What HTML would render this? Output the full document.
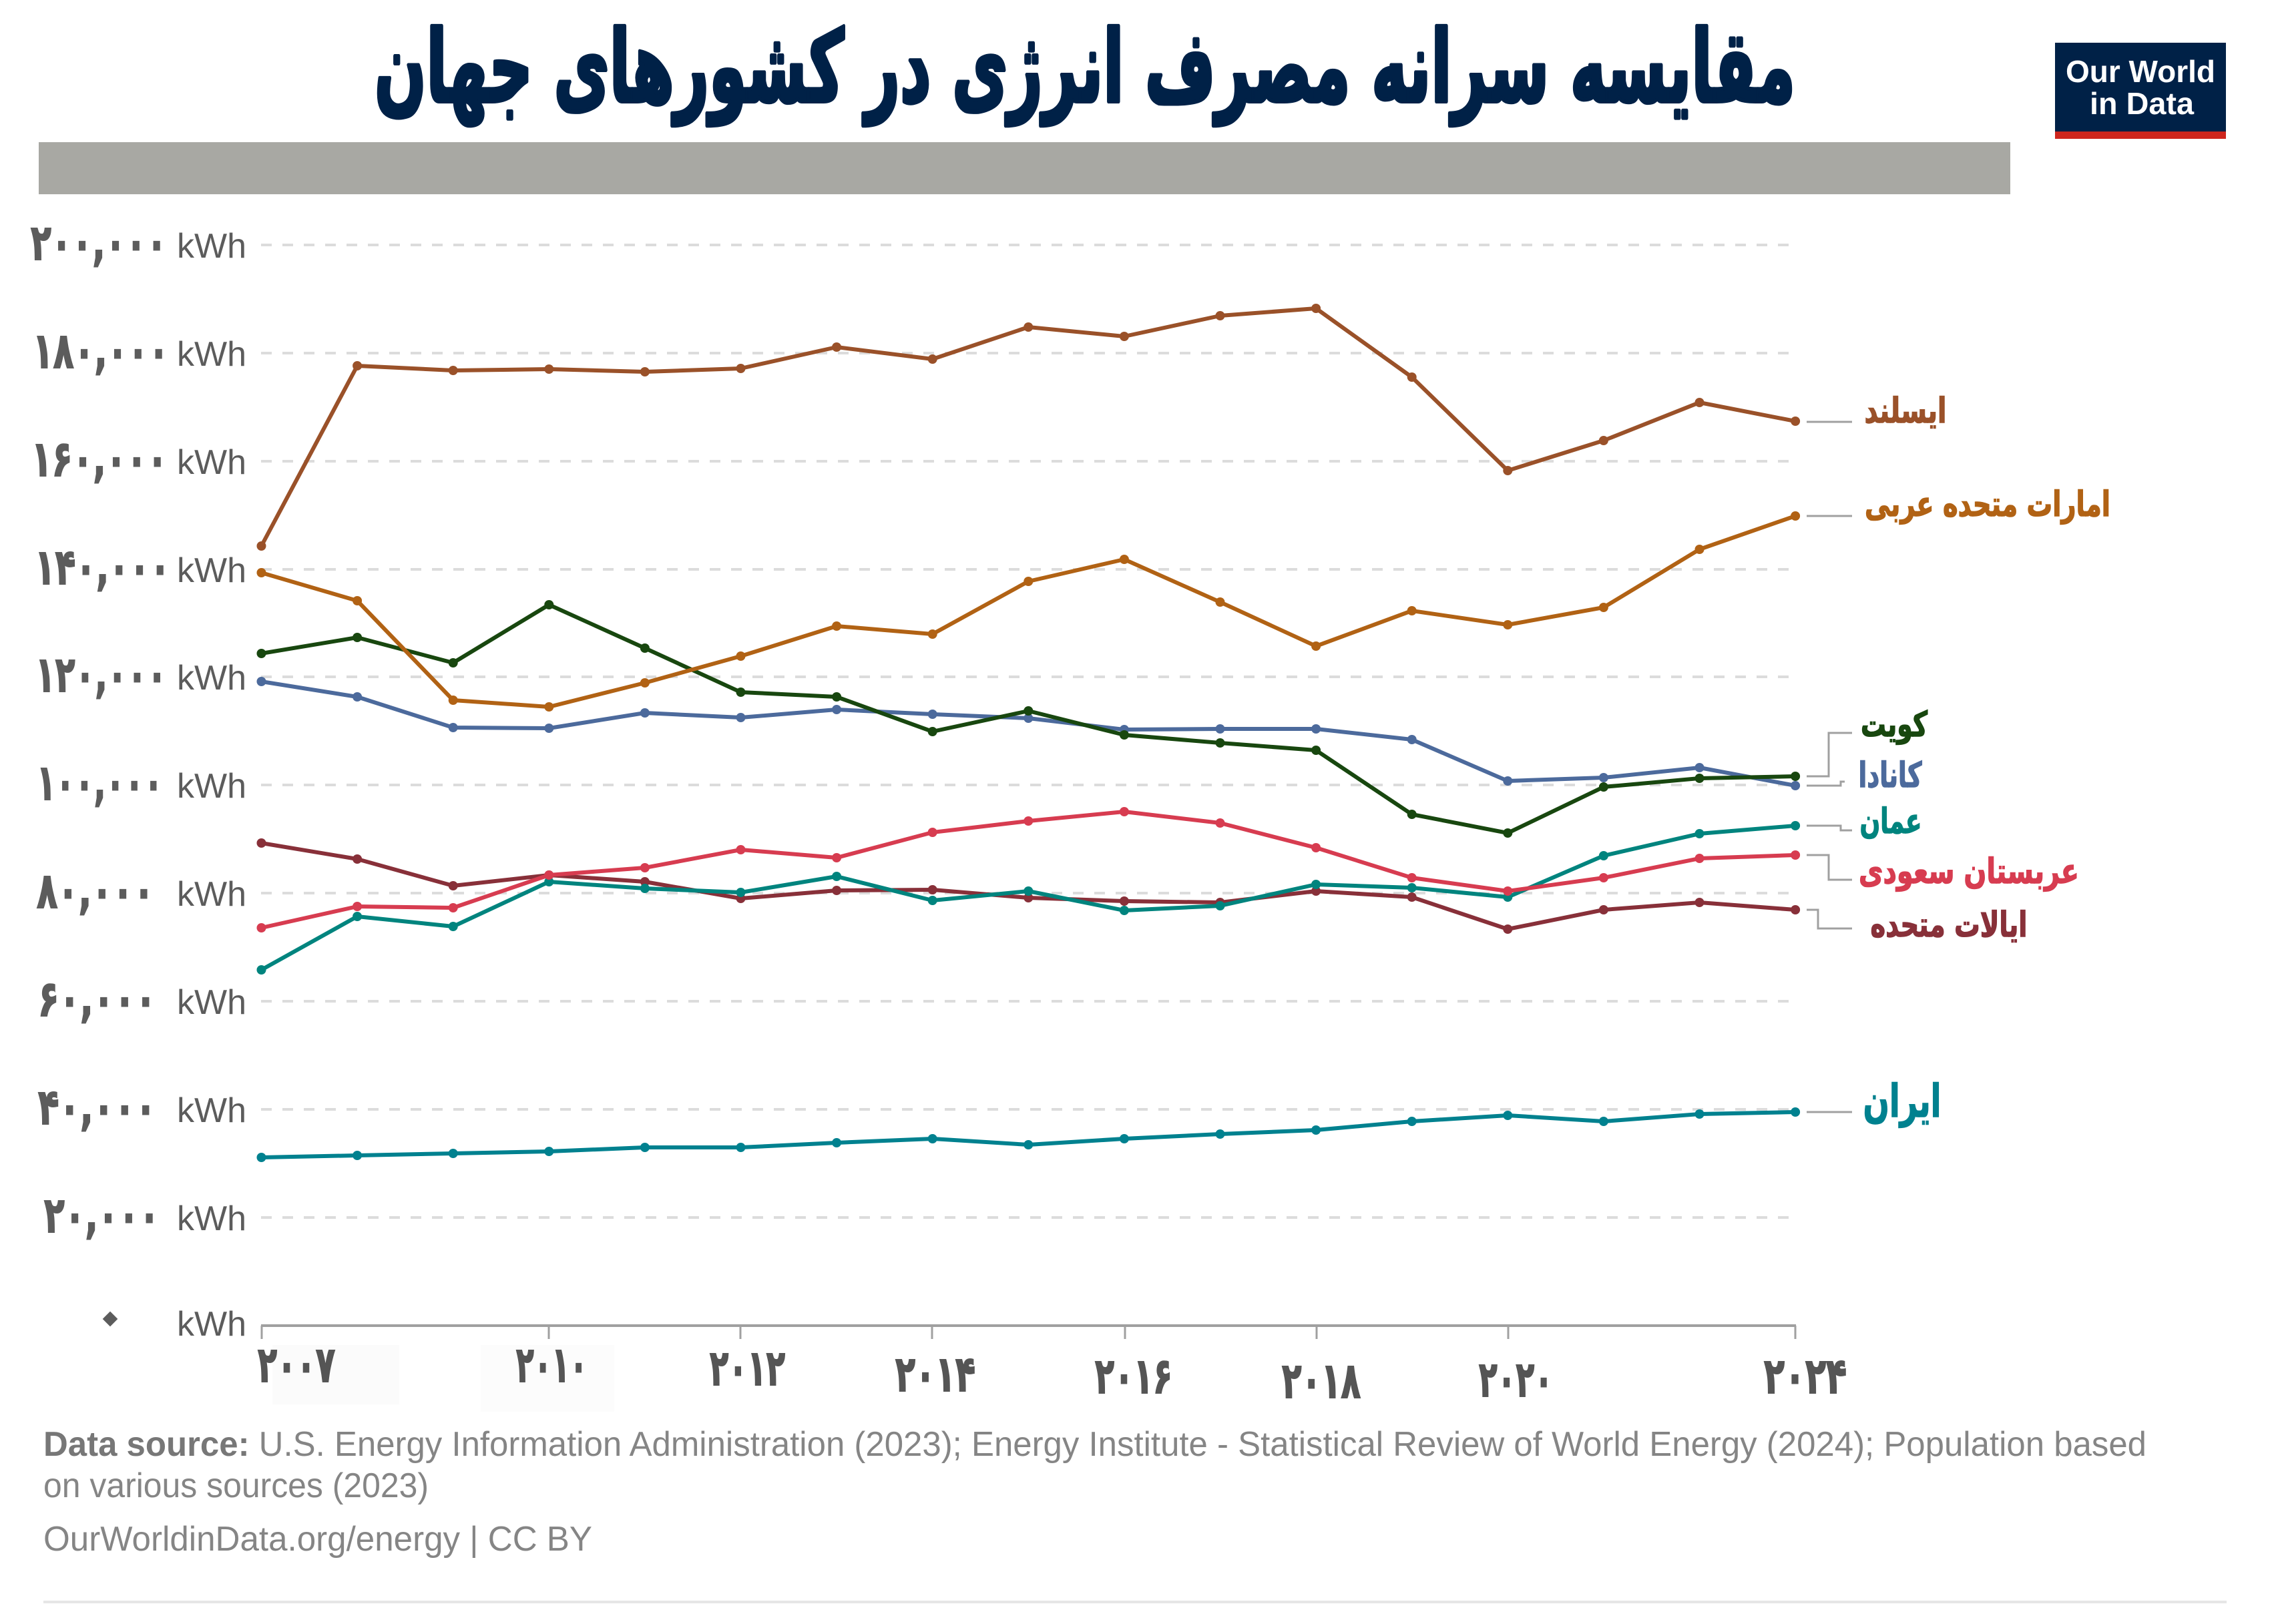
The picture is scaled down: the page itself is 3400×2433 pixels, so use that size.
<!DOCTYPE html>
<html><head><meta charset="utf-8">
<style>
html,body{margin:0;padding:0;background:#fff;}
svg{display:block;}
.fa{font-family:"DejaVu Sans",sans-serif;font-weight:bold;}
.lat{font-family:"Liberation Sans",sans-serif;}
</style></head>
<body>
<svg width="3400" height="2433" viewBox="0 0 3400 2433" xmlns="http://www.w3.org/2000/svg">
<defs>
<marker id="m1" viewBox="-8 -8 16 16" markerWidth="16" markerHeight="16" markerUnits="userSpaceOnUse"><circle r="7" fill="#9A5129"/></marker>
<marker id="m2" viewBox="-8 -8 16 16" markerWidth="16" markerHeight="16" markerUnits="userSpaceOnUse"><circle r="7" fill="#B16214"/></marker>
<marker id="m3" viewBox="-8 -8 16 16" markerWidth="16" markerHeight="16" markerUnits="userSpaceOnUse"><circle r="7" fill="#18470F"/></marker>
<marker id="m4" viewBox="-8 -8 16 16" markerWidth="16" markerHeight="16" markerUnits="userSpaceOnUse"><circle r="7" fill="#4C6A9C"/></marker>
<marker id="m5" viewBox="-8 -8 16 16" markerWidth="16" markerHeight="16" markerUnits="userSpaceOnUse"><circle r="7" fill="#00847E"/></marker>
<marker id="m6" viewBox="-8 -8 16 16" markerWidth="16" markerHeight="16" markerUnits="userSpaceOnUse"><circle r="7" fill="#D73C50"/></marker>
<marker id="m7" viewBox="-8 -8 16 16" markerWidth="16" markerHeight="16" markerUnits="userSpaceOnUse"><circle r="7" fill="#883039"/></marker>
<marker id="m8" viewBox="-8 -8 16 16" markerWidth="16" markerHeight="16" markerUnits="userSpaceOnUse"><circle r="7" fill="#00818F"/></marker>
</defs>

<!-- Title -->
<g transform="translate(0,152) scale(1,1.2) translate(0,-152)">
<text class="fa" x="1625" y="152" font-size="124" fill="#002147" stroke="#002147" stroke-width="5" stroke-linejoin="round" text-anchor="middle" direction="rtl" textLength="2128" lengthAdjust="spacingAndGlyphs">مقایسه سرانه مصرف انرژی در کشورهای جهان</text>
</g>

<!-- Logo -->
<rect x="3078" y="64" width="256" height="144" fill="#002147"/>
<rect x="3078" y="197" width="256" height="11" fill="#CE261E"/>
<text class="lat" x="3206" y="123" font-size="46" font-weight="bold" fill="#fff" text-anchor="middle" textLength="224" lengthAdjust="spacingAndGlyphs">Our World</text>
<text class="lat" x="3208" y="171" font-size="46" font-weight="bold" fill="#fff" text-anchor="middle" textLength="156" lengthAdjust="spacingAndGlyphs">in Data</text>

<!-- Grey bar -->
<rect x="58" y="213" width="2953" height="78" fill="#A8A8A3"/>

<!-- Gridlines -->
<g stroke="#DCDCDC" stroke-width="4" stroke-dasharray="16 16" fill="none">
<line x1="391" y1="367" x2="2690" y2="367"/>
<line x1="391" y1="529" x2="2690" y2="529"/>
<line x1="391" y1="691" x2="2690" y2="691"/>
<line x1="391" y1="853" x2="2690" y2="853"/>
<line x1="391" y1="1014" x2="2690" y2="1014"/>
<line x1="391" y1="1176" x2="2690" y2="1176"/>
<line x1="391" y1="1338" x2="2690" y2="1338"/>
<line x1="391" y1="1500" x2="2690" y2="1500"/>
<line x1="391" y1="1662" x2="2690" y2="1662"/>
<line x1="391" y1="1824" x2="2690" y2="1824"/>
</g>

<!-- Y labels numbers -->
<g class="fa" fill="#5C5C5C" stroke="#5C5C5C" stroke-width="2" font-size="74" text-anchor="end" direction="ltr">
<text x="250" y="389" textLength="204" lengthAdjust="spacingAndGlyphs">۲۰۰,۰۰۰</text>
<text x="253" y="551" textLength="204" lengthAdjust="spacingAndGlyphs">۱۸۰,۰۰۰</text>
<text x="251" y="713" textLength="204" lengthAdjust="spacingAndGlyphs">۱۶۰,۰۰۰</text>
<text x="255" y="875" textLength="203" lengthAdjust="spacingAndGlyphs">۱۴۰,۰۰۰</text>
<text x="250" y="1036" textLength="197" lengthAdjust="spacingAndGlyphs">۱۲۰,۰۰۰</text>
<text x="244" y="1198" textLength="189" lengthAdjust="spacingAndGlyphs">۱۰۰,۰۰۰</text>
<text x="231" y="1360" textLength="176" lengthAdjust="spacingAndGlyphs">۸۰,۰۰۰</text>
<text x="234" y="1522" textLength="177" lengthAdjust="spacingAndGlyphs">۶۰,۰۰۰</text>
<text x="234" y="1684" textLength="177" lengthAdjust="spacingAndGlyphs">۴۰,۰۰۰</text>
<text x="239" y="1846" textLength="173" lengthAdjust="spacingAndGlyphs">۲۰,۰۰۰</text>
</g>
<rect x="157" y="1968" width="16" height="16" fill="#5C5C5C" transform="rotate(45 165 1976)"/>

<!-- kWh -->
<g class="lat" fill="#5C5C5C" font-size="52" text-anchor="end">
<text x="369" y="386" textLength="104" lengthAdjust="spacingAndGlyphs">kWh</text>
<text x="369" y="548" textLength="104" lengthAdjust="spacingAndGlyphs">kWh</text>
<text x="369" y="710" textLength="104" lengthAdjust="spacingAndGlyphs">kWh</text>
<text x="369" y="872" textLength="104" lengthAdjust="spacingAndGlyphs">kWh</text>
<text x="369" y="1033" textLength="104" lengthAdjust="spacingAndGlyphs">kWh</text>
<text x="369" y="1195" textLength="104" lengthAdjust="spacingAndGlyphs">kWh</text>
<text x="369" y="1357" textLength="104" lengthAdjust="spacingAndGlyphs">kWh</text>
<text x="369" y="1519" textLength="104" lengthAdjust="spacingAndGlyphs">kWh</text>
<text x="369" y="1681" textLength="104" lengthAdjust="spacingAndGlyphs">kWh</text>
<text x="369" y="1843" textLength="104" lengthAdjust="spacingAndGlyphs">kWh</text>
<text x="369" y="2001" textLength="104" lengthAdjust="spacingAndGlyphs">kWh</text>
</g>

<!-- X axis -->
<line x1="391" y1="1986" x2="2690" y2="1986" stroke="#A0A0A0" stroke-width="4"/>
<g stroke="#A0A0A0" stroke-width="3">
<line x1="392" y1="1986" x2="392" y2="2006"/>
<line x1="822" y1="1986" x2="822" y2="2006"/>
<line x1="1109" y1="1986" x2="1109" y2="2006"/>
<line x1="1396" y1="1986" x2="1396" y2="2006"/>
<line x1="1685" y1="1986" x2="1685" y2="2006"/>
<line x1="1972" y1="1986" x2="1972" y2="2006"/>
<line x1="2259" y1="1986" x2="2259" y2="2006"/>
<line x1="2689" y1="1986" x2="2689" y2="2006"/>
</g>
<rect x="408" y="2015" width="190" height="89" fill="#FBFBFB"/>
<rect x="720" y="2015" width="200" height="100" fill="#FCFCFC"/>
<g class="fa" fill="#555555" stroke="#555555" stroke-width="2" font-size="74" direction="ltr">
<text x="386" y="2070" textLength="116" lengthAdjust="spacingAndGlyphs">۲۰۰۷</text>
<text x="773" y="2070" textLength="107" lengthAdjust="spacingAndGlyphs">۲۰۱۰</text>
<text x="1063" y="2075" textLength="113" lengthAdjust="spacingAndGlyphs">۲۰۱۲</text>
<text x="1341" y="2084" textLength="120" lengthAdjust="spacingAndGlyphs">۲۰۱۴</text>
<text x="1640" y="2087" textLength="116" lengthAdjust="spacingAndGlyphs">۲۰۱۶</text>
<text x="1920" y="2094" textLength="118" lengthAdjust="spacingAndGlyphs">۲۰۱۸</text>
<text x="2215" y="2092" textLength="111" lengthAdjust="spacingAndGlyphs">۲۰۲۰</text>
<text x="2642" y="2087" textLength="124" lengthAdjust="spacingAndGlyphs">۲۰۲۴</text>
</g>

<!-- Series -->
<g fill="none" stroke-width="6" stroke-linejoin="round" stroke-linecap="round">
<polyline stroke="#00818F" marker-start="url(#m8)" marker-mid="url(#m8)" marker-end="url(#m8)" points="391.5,1734 535.1,1731 678.7,1728 822.3,1725 965.9,1719 1109.5,1719 1253.1,1712 1396.7,1706 1540.3,1715 1683.9,1706 1827.5,1699 1971.1,1693 2114.7,1680 2258.3,1671 2401.9,1680 2545.5,1669 2689.1,1666"/>
<polyline stroke="#883039" marker-start="url(#m7)" marker-mid="url(#m7)" marker-end="url(#m7)" points="391.5,1263 535.1,1287 678.7,1327 822.3,1311 965.9,1321 1109.5,1346 1253.1,1334 1396.7,1333 1540.3,1345 1683.9,1350 1827.5,1352 1971.1,1335 2114.7,1344 2258.3,1392 2401.9,1363 2545.5,1352 2689.1,1363"/>
<polyline stroke="#00847E" marker-start="url(#m5)" marker-mid="url(#m5)" marker-end="url(#m5)" points="391.5,1453 535.1,1373 678.7,1388 822.3,1321 965.9,1331 1109.5,1337 1253.1,1313 1396.7,1349 1540.3,1335 1683.9,1364 1827.5,1357 1971.1,1325 2114.7,1330 2258.3,1344 2401.9,1282 2545.5,1249 2689.1,1237"/>
<polyline stroke="#D73C50" marker-start="url(#m6)" marker-mid="url(#m6)" marker-end="url(#m6)" points="391.5,1390 535.1,1358 678.7,1360 822.3,1311 965.9,1300 1109.5,1273 1253.1,1285 1396.7,1247 1540.3,1230 1683.9,1216 1827.5,1233 1971.1,1270 2114.7,1315 2258.3,1335 2401.9,1315 2545.5,1286 2689.1,1281"/>
<polyline stroke="#4C6A9C" marker-start="url(#m4)" marker-mid="url(#m4)" marker-end="url(#m4)" points="391.5,1021 535.1,1044 678.7,1090 822.3,1091 965.9,1068 1109.5,1075 1253.1,1063 1396.7,1070 1540.3,1076 1683.9,1093 1827.5,1092 1971.1,1092 2114.7,1108 2258.3,1170 2401.9,1165 2545.5,1150 2689.1,1177"/>
<polyline stroke="#18470F" marker-start="url(#m3)" marker-mid="url(#m3)" marker-end="url(#m3)" points="391.5,979 535.1,955 678.7,993 822.3,906 965.9,971 1109.5,1037 1253.1,1044 1396.7,1096 1540.3,1065 1683.9,1101 1827.5,1113 1971.1,1124 2114.7,1220 2258.3,1248 2401.9,1179 2545.5,1166 2689.1,1163"/>
<polyline stroke="#B16214" marker-start="url(#m2)" marker-mid="url(#m2)" marker-end="url(#m2)" points="391.5,858 535.1,900 678.7,1049 822.3,1059 965.9,1023 1109.5,983 1253.1,938 1396.7,950 1540.3,871 1683.9,838 1827.5,902 1971.1,968 2114.7,915 2258.3,936 2401.9,910 2545.5,823 2689.1,773"/>
<polyline stroke="#9A5129" marker-start="url(#m1)" marker-mid="url(#m1)" marker-end="url(#m1)" points="391.5,818 535.1,548 678.7,555 822.3,553 965.9,557 1109.5,552 1253.1,520 1396.7,538 1540.3,490 1683.9,504 1827.5,473 1971.1,462 2114.7,565 2258.3,705 2401.9,660 2545.5,603 2689.1,631"/>
</g>

<!-- Connectors -->
<g fill="none" stroke="#A0A0A0" stroke-width="3">
<path d="M2706,632 H2774"/>
<path d="M2706,773 H2774"/>
<path d="M2706,1163 H2739 V1098 H2774"/>
<path d="M2706,1177 H2757 V1171 H2763"/>
<path d="M2706,1237 H2757 V1244 H2774"/>
<path d="M2706,1281 H2739 V1318 H2774"/>
<path d="M2706,1363 H2723 V1391 H2774"/>
<path d="M2706,1666 H2774"/>
</g>

<!-- Series labels -->
<g class="fa" font-size="52" direction="rtl" text-anchor="middle" stroke-width="1.5">
<text x="2854" y="633" fill="#9A5129" stroke="#9A5129" textLength="123" lengthAdjust="spacingAndGlyphs">ایسلند</text>
<text x="2977" y="773" fill="#B16214" stroke="#B16214" textLength="368" lengthAdjust="spacingAndGlyphs">امارات متحده عربی</text>
<text x="2837" y="1103" fill="#18470F" stroke="#18470F" textLength="100" lengthAdjust="spacingAndGlyphs">کویت</text>
<text x="2831" y="1179" fill="#4C6A9C" stroke="#4C6A9C" textLength="95" lengthAdjust="spacingAndGlyphs">کانادا</text>
<text x="2832" y="1248" fill="#00847E" stroke="#00847E" textLength="93" lengthAdjust="spacingAndGlyphs">عمان</text>
<text x="2949" y="1323" fill="#D73C50" stroke="#D73C50" textLength="330" lengthAdjust="spacingAndGlyphs">عربستان سعودی</text>
<text x="2919" y="1403" fill="#883039" stroke="#883039" textLength="235" lengthAdjust="spacingAndGlyphs">ایالات متحده</text>
<text x="2849" y="1673" fill="#00818F" stroke="#00818F" font-size="68" textLength="117" lengthAdjust="spacingAndGlyphs">ایران</text>
</g>

<!-- Footer -->
<g class="lat" fill="#858585" font-size="52">
<text x="65" y="2181" textLength="3150" lengthAdjust="spacingAndGlyphs"><tspan font-weight="bold" fill="#777">Data source:</tspan> U.S. Energy Information Administration (2023); Energy Institute - Statistical Review of World Energy (2024); Population based</text>
<text x="65" y="2243" textLength="577" lengthAdjust="spacingAndGlyphs">on various sources (2023)</text>
<text x="65" y="2323" textLength="822" lengthAdjust="spacingAndGlyphs">OurWorldinData.org/energy | CC BY</text>
</g>
<rect x="65" y="2398" width="3270" height="4" fill="#E6E6E6"/>
</svg>
</body></html>
